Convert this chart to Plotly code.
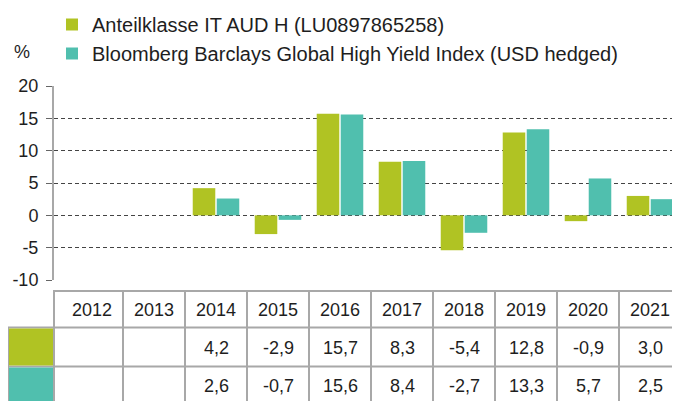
import plotly.graph_objects as go

years = [2012, 2013, 2014, 2015, 2016, 2017, 2018, 2019, 2020, 2021]
fund = [None, None, 4.2, -2.9, 15.7, 8.3, -5.4, 12.8, -0.9, 3.0]
index = [None, None, 2.6, -0.7, 15.6, 8.4, -2.7, 13.3, 5.7, 2.5]
fund_name = "Anteilklasse IT AUD H (LU0897865258)"
index_name = "Bloomberg Barclays Global High Yield Index (USD hedged)"
y_ticks = [-10, -5, 0, 5, 10, 15, 20]

GREEN = "#b0c323"
TEAL = "#50bfae"
BORDER = "#a8a8a8"
TXT = "#1e1e1e"
FONT = "Liberation Sans, Arial, sans-serif"

W, H = 680, 401
OFF = 8  # page body margin
# screen geometry of the plot area
S_L, S_T, S_B = 54, 86, 280
L_f, T_f, B_f = S_L - OFF, S_T - OFF, S_B - OFF
PW = W - L_f


def py(s):
    return (S_B - s) / (S_B - S_T)


def px(s):
    return (s - S_L) / PW


fig = go.Figure()
fig.add_bar(x=years, y=fund, name=fund_name, marker_color=GREEN, marker_line_width=0)
fig.add_bar(x=years, y=index, name=index_name, marker_color=TEAL, marker_line_width=0)

ppu = 62.0
x0 = 2014 - (216 - S_L) / ppu
x1 = x0 + PW / ppu

shapes = []
annotations = []
line = dict(color=BORDER, width=2)
TOP, R1, R2, BOT = 291, 327.5, 366.5, 420

shapes.append(dict(type="line", xref="paper", yref="paper", x0=px(53), x1=1.02, y0=py(TOP), y1=py(TOP), line=line))
for yy in (R1, R2):
    shapes.append(dict(type="line", xref="paper", yref="paper", x0=px(7), x1=1.02, y0=py(yy), y1=py(yy), line=line))
shapes.append(dict(type="line", xref="paper", yref="paper", x0=0, x1=0, y0=py(TOP), y1=py(BOT), line=line))
shapes.append(dict(type="line", xref="paper", yref="paper", x0=px(8), x1=px(8), y0=py(R1), y1=py(BOT), line=line))
for yr in years:
    shapes.append(dict(type="line", xref="x", yref="paper", x0=yr + 0.5, x1=yr + 0.5, y0=py(TOP), y1=py(BOT), line=line))
shapes.append(dict(type="rect", xref="paper", yref="paper", x0=px(9), x1=px(53), y0=py(R1 + 1), y1=py(R2 - 1), fillcolor=GREEN, line_width=0))
shapes.append(dict(type="rect", xref="paper", yref="paper", x0=px(9), x1=px(53), y0=py(R2 + 1), y1=py(BOT), fillcolor=TEAL, line_width=0))


def fmt(v):
    return "" if v is None else f"{v:.1f}".replace(".", ",")


tfont = dict(size=18, color=TXT, family=FONT)


def cell(x, y, text, xref="x"):
    return dict(x=x, xref=xref, y=py(y), yref="paper", text=text, showarrow=False,
                xanchor="center", yanchor="middle", font=tfont)


for yr, f, i in zip(years, fund, index):
    annotations.append(cell(yr, 310, str(yr)))
    annotations.append(cell(yr, 348, fmt(f)))
    annotations.append(cell(yr, 386, fmt(i)))

annotations.append(cell(px(22), 52, "%", xref="paper"))

fig.update_layout(
    width=W, height=H,
    margin=dict(l=L_f, r=0, t=T_f, b=H - B_f, pad=0, autoexpand=False),
    paper_bgcolor="white", plot_bgcolor="white",
    font=dict(family=FONT, size=18, color=TXT),
    barmode="group", bargap=0.226, bargroupgap=0.06,
    showlegend=True,
    legend=dict(xref="paper", yref="paper", x=px(52), y=py(5), xanchor="left", yanchor="top",
                font=dict(size=20, color=TXT, family=FONT), bgcolor="rgba(0,0,0,0)",
                tracegroupgap=0, itemwidth=30),
    shapes=shapes, annotations=annotations,
)
fig.update_xaxes(range=[x0, x1], showticklabels=False, showgrid=False, zeroline=False, showline=False, ticks="")
fig.update_yaxes(range=[-10, 20], tickvals=y_ticks, ticktext=[str(v) for v in y_ticks],
                 showgrid=True, gridcolor="#444", griddash="4px,3px", gridwidth=1,
                 zeroline=False, showline=True, linecolor=BORDER, linewidth=2,
                 ticks="outside", ticklen=6, tickcolor="#666", tickwidth=1,
                 ticklabelstandoff=4,
                 tickfont=dict(size=18, color=TXT, family=FONT))

fig.write_html("out.html")
